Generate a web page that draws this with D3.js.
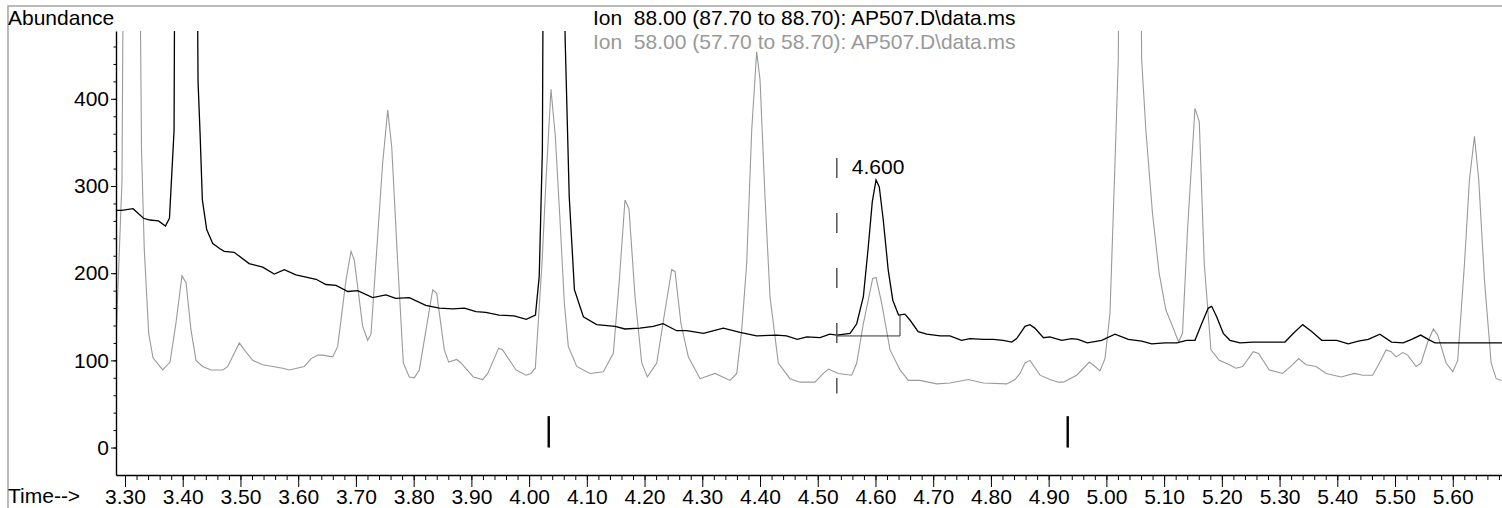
<!DOCTYPE html>
<html>
<head>
<meta charset="utf-8">
<script src="https://cdn.jsdelivr.net/npm/d3@7"></script>
<style>
  body { margin: 0; background: #fff; }
  text { font-family: "Liberation Sans", Arial, sans-serif; }
</style>
</head>
<body>
<div id="graph"></div>
<script>
// Ion 88 trace (black): [time (min), abundance]
const ion88 = [
  [3.284,272],[3.294,272],[3.314,274],[3.332,263],[3.343,261],[3.358,260],[3.370,254],[3.377,263],
  [3.385,364],[3.388,900],[3.406,2500],[3.422,900],[3.4265,420],[3.430,361],[3.434,284],[3.4415,250],
  [3.452,234],[3.4645,228],[3.472,225],[3.489,224],[3.515,211],[3.5385,207],[3.5586,199],[3.576,204],
  [3.596,198],[3.631,193],[3.648,187],[3.6655,186],[3.686,179],[3.703,180],[3.729,172],[3.752,175],
  [3.769,171],[3.7925,172],[3.821,163],[3.8445,160],[3.868,159],[3.888,160],[3.908,156],[3.925,155],
  [3.948,152],[3.974,151],[3.995,147],[4.011,152],[4.0175,196],[4.023,341],[4.0267,900],[4.0414,2500],
  [4.054,800],[4.0625,467],[4.0695,288],[4.0785,181],[4.094,150],[4.117,141],[4.149,139],[4.166,136],
  [4.192,137],[4.215,139],[4.232,142],[4.2556,134],[4.273,134],[4.302,131],[4.3364,137],[4.3654,132],
  [4.394,128],[4.429,129],[4.446,128],[4.4646,124],[4.481,127],[4.504,126],[4.521,130],[4.533,129],
  [4.556,131],[4.5675,142],[4.579,173],[4.5875,230],[4.5945,282],[4.601,307],[4.6066,299],[4.6135,261],
  [4.622,204],[4.63,169],[4.64,152],[4.651,153],[4.66,146],[4.674,133],[4.6887,130],[4.712,128],
  [4.729,128],[4.749,123],[4.7637,125],[4.787,124],[4.804,124],[4.8214,123],[4.836,121],[4.8446,125],
  [4.859,139],[4.8676,141],[4.876,137],[4.891,126],[4.902,127],[4.9226,123],[4.94,125],[4.951,124],
  [4.967,120],[4.9918,123],[5.0149,130],[5.038,124],[5.0612,122],[5.0785,119],[5.1015,120],[5.122,120],
  [5.139,123],[5.1535,123],[5.165,142],[5.1765,160],[5.1824,162],[5.191,150],[5.2025,131],[5.214,123],
  [5.2314,120],[5.2545,121],[5.2747,121],[5.295,121],[5.3094,121],[5.324,131],[5.34,141],[5.3556,133],
  [5.373,123],[5.399,123],[5.419,119],[5.4364,122],[5.4537,124],[5.4737,130],[5.494,121],[5.514,120],
  [5.5288,124],[5.5444,129],[5.5575,124],[5.5692,120],[5.595,120],[5.6304,120],[5.659,120],[5.6853,120]
];

// Ion 58 trace (grey)
const ion58 = [
  [3.2844,123],[3.2948,307],[3.30,900],[3.3104,2500],[3.3217,900],[3.3286,341],[3.3334,227],[3.341,131],
  [3.3485,103],[3.3653,89],[3.378,98],[3.3883,143],[3.3987,197],[3.4057,189],[3.4143,135],[3.423,100],
  [3.4346,93],[3.449,89],[3.4698,89],[3.478,93],[3.498,120],[3.5067,112],[3.5212,100],[3.5385,95],
  [3.5732,91],[3.5846,89],[3.6106,93],[3.6225,102],[3.6338,106],[3.6425,106],[3.6598,104],[3.6684,116],
  [3.6828,192],[3.6915,225],[3.6972,215],[3.7117,139],[3.7204,123],[3.7261,130],[3.7463,326],[3.7551,387],
  [3.762,345],[3.7724,212],[3.7821,97],[3.7925,81],[3.8011,80],[3.8098,89],[3.8214,135],[3.833,181],
  [3.8399,177],[3.8531,112],[3.8607,98],[3.8746,101],[3.882,97],[3.9033,81],[3.9196,78],[3.9283,85],
  [3.9473,114],[3.9543,112],[3.9773,89],[3.9946,83],[4.0033,85],[4.0108,91],[4.0224,212],[4.0293,307],
  [4.0379,411],[4.0454,357],[4.0535,261],[4.061,166],[4.0679,116],[4.0825,93],[4.1055,85],[4.1286,87],
  [4.1459,108],[4.1563,192],[4.1661,284],[4.173,274],[4.1835,173],[4.1951,97],[4.2048,81],[4.2211,97],
  [4.2337,150],[4.247,204],[4.2528,202],[4.2631,142],[4.2758,104],[4.2961,79],[4.3221,85],[4.3481,77],
  [4.3597,85],[4.3683,135],[4.3769,211],[4.3856,364],[4.3942,454],[4.4,422],[4.4086,288],[4.4173,173],
  [4.4317,97],[4.4519,79],[4.4692,75],[4.4952,75],[4.5097,85],[4.5183,90],[4.5356,85],[4.5588,83],
  [4.5675,97],[4.579,142],[4.5952,194],[4.601,195],[4.6109,165],[4.6252,112],[4.6426,89],[4.6569,77],
  [4.6771,77],[4.7061,73],[4.7291,74],[4.7608,78],[4.7868,74],[4.8273,73],[4.8417,78],[4.8504,85],
  [4.859,97],[4.8677,100],[4.885,83],[4.9023,78],[4.9167,75],[4.9254,75],[4.9369,79],[4.9486,83],
  [4.9704,98],[4.9803,93],[4.9889,88],[4.9976,102],[5.0062,154],[5.0149,326],[5.0206,445],[5.0249,900],
  [5.0405,2500],[5.0552,900],[5.0611,445],[5.0684,364],[5.0798,269],[5.0914,200],[5.103,158],[5.1146,139],
  [5.1251,121],[5.1319,131],[5.1406,250],[5.1534,389],[5.1609,374],[5.1695,211],[5.1811,112],[5.1955,100],
  [5.2129,95],[5.2245,91],[5.2359,93],[5.2545,110],[5.2637,108],[5.2822,89],[5.3053,85],[5.3226,95],
  [5.3331,102],[5.3459,95],[5.3632,93],[5.3806,85],[5.4066,81],[5.4296,85],[5.444,83],[5.4613,83],
  [5.4729,97],[5.4845,112],[5.4932,110],[5.5019,104],[5.5133,109],[5.522,106],[5.5365,93],[5.5452,97],
  [5.5566,121],[5.5665,136],[5.574,129],[5.5885,97],[5.6,87],[5.6086,100],[5.6203,211],[5.6289,307],
  [5.6376,357],[5.645,307],[5.6549,192],[5.6665,97],[5.6752,79],[5.6844,77]
];

const xTicks = [3.30,3.40,3.50,3.60,3.70,3.80,3.90,4.00,4.10,4.20,4.30,4.40,4.50,4.60,4.70,4.80,4.90,5.00,5.10,5.20,5.30,5.40,5.50,5.60];
const yTicks = [0,100,200,300,400];
const legendLabels = [
  "Ion  88.00 (87.70 to 88.70): AP507.D\\data.ms",
  "Ion  58.00 (57.70 to 58.70): AP507.D\\data.ms"
];
const legendColors = ["#000", "#999"];

// event tick marks near the baseline
const eventTimes = [4.034, 4.933];
const eventHeight = 36;

// integrated peak
const peakLabel = "4.600";
const peakMarkerTime = 4.533;
const peakMarkerRange = [62, 332];
const peakStart = [4.533, 128];
const peakEnd = [4.6425, 128, 152];

const fontSize = "21px";

const margin = { top: 31, right: 0, bottom: 33, left: 116 };
const width = 1502 - margin.left - margin.right;
const height = 508 - margin.top - margin.bottom;

const root = d3.select("#graph")
  .append("svg")
  .attr("width", 1502)
  .attr("height", 508);

// outer frame
root.append("rect")
  .attr("x", 8).attr("y", 6)
  .attr("width", 1600).attr("height", 600)
  .attr("fill", "none")
  .attr("stroke", "#aaa")
  .attr("stroke-width", 1.6);

const svg = root.append("g")
  .attr("transform", `translate(${margin.left},${margin.top})`);

const xScale = d3.scaleLinear().domain([3.2844, 5.6853]).range([0, width]);
const yScale = d3.scaleLinear().domain([-31.5, 477.8]).range([height, 0]);

svg.append("clipPath").attr("id", "plot-clip")
  .append("rect").attr("width", width).attr("height", height);

const line = d3.line().x(d => xScale(d[0])).y(d => yScale(d[1]));

const traces = svg.append("g").attr("clip-path", "url(#plot-clip)");

traces.append("path")
  .datum(ion58)
  .attr("d", line)
  .attr("fill", "none")
  .attr("stroke", "#9a9a9a")
  .attr("stroke-width", 1.1);

traces.append("path")
  .datum(ion88)
  .attr("d", line)
  .attr("fill", "none")
  .attr("stroke", "#000")
  .attr("stroke-width", 1.3);

// integration baseline
svg.append("path")
  .attr("d", `M${xScale(peakStart[0])},${yScale(peakStart[1])}H${xScale(peakEnd[0])}V${yScale(peakEnd[2])}`)
  .attr("fill", "none")
  .attr("stroke", "#333")
  .attr("stroke-width", 1);

// dashed retention time marker
svg.append("line")
  .attr("x1", xScale(peakMarkerTime)).attr("x2", xScale(peakMarkerTime))
  .attr("y1", yScale(peakMarkerRange[1])).attr("y2", yScale(peakMarkerRange[0]))
  .attr("stroke", "#555")
  .attr("stroke-width", 1.5)
  .attr("stroke-dasharray", "20,35");

svg.append("text")
  .attr("x", xScale(peakMarkerTime) + 15)
  .attr("y", yScale(peakMarkerRange[1]) + 16)
  .style("font-size", fontSize)
  .text(peakLabel);

// event marks
svg.selectAll(".event")
  .data(eventTimes)
  .join("line")
  .attr("class", "event")
  .attr("x1", d => xScale(d)).attr("x2", d => xScale(d))
  .attr("y1", yScale(0)).attr("y2", yScale(eventHeight))
  .attr("stroke", "#000")
  .attr("stroke-width", 2.4);

// x axis
svg.append("g")
  .attr("transform", `translate(0,${height})`)
  .call(d3.axisBottom(xScale).tickValues(d3.range(3.30, 5.69, 0.02)).tickSize(5).tickSizeOuter(0).tickFormat(""))
  .call(g => g.select(".domain").attr("stroke-width", 1.4));

svg.append("g")
  .attr("transform", `translate(0,${height})`)
  .call(d3.axisBottom(xScale).tickValues(xTicks).tickSize(12).tickSizeOuter(0).tickPadding(2).tickFormat(d3.format(".2f")))
  .call(g => g.select(".domain").remove())
  .selectAll("text")
  .style("font-size", fontSize)
  .style("font-family", "'Liberation Sans', Arial, sans-serif");

// y axis
svg.append("g")
  .call(d3.axisLeft(yScale).tickValues(d3.range(0, 461, 20)).tickSize(2.5).tickSizeOuter(0).tickFormat(""))
  .call(g => g.select(".domain").attr("stroke-width", 1.4));

svg.append("g")
  .call(d3.axisLeft(yScale).tickValues(yTicks).tickSize(5).tickSizeOuter(0).tickPadding(2))
  .call(g => g.select(".domain").remove())
  .selectAll("text")
  .style("font-size", fontSize)
  .style("font-family", "'Liberation Sans', Arial, sans-serif");

// titles
root.append("text")
  .attr("x", 8).attr("y", 25)
  .style("font-size", fontSize)
  .text("Abundance");

root.append("text")
  .attr("x", 8).attr("y", 503)
  .style("font-size", fontSize)
  .text("Time-->");

root.selectAll(".legend")
  .data(legendLabels)
  .join("text")
  .attr("class", "legend")
  .attr("x", 593)
  .attr("y", (d, i) => 25 + i * 24)
  .attr("fill", (d, i) => legendColors[i])
  .style("font-size", fontSize)
  .style("white-space", "pre")
  .text(d => d);
</script>
</body>
</html>
